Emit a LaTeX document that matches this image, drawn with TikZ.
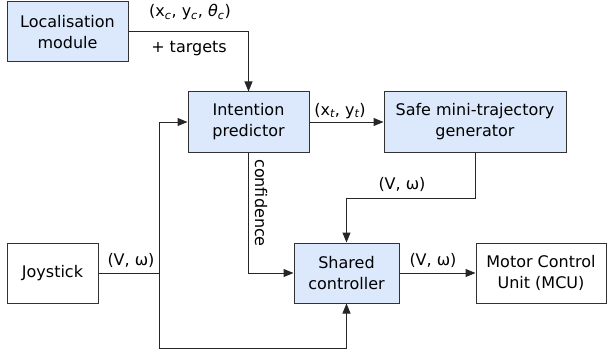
\documentclass[tikz,border=0pt]{standalone}
\usepackage{fontspec}
\setmainfont{DejaVu Sans}
\usetikzlibrary{arrows.meta}
\definecolor{boxblue}{RGB}{220,233,252}
\definecolor{edgegray}{RGB}{50,50,50}
\newcommand{\sub}[1]{\textsubscript{\itshape #1}}
\tikzset{
  block/.style={draw=edgegray, line width=1pt, align=center, inner sep=0pt,
    font=\fontsize{16}{21}\selectfont},
  blueblock/.style={block, fill=boxblue},
  wire/.style={line width=1pt, draw=black!85},
  feed/.style={wire, -{Triangle[length=10pt,width=8pt]}},
  tag/.style={font=\fontsize{16}{19}\selectfont, inner sep=0pt}
}
\begin{document}
\begin{tikzpicture}[x=1pt,y=-1pt]
\useasboundingbox (0,0) rectangle (608,353);

% blocks
\node[blueblock, minimum width=121pt, minimum height=60pt] (loc) at (67.5,32) {Localisation\\module};
\node[blueblock, minimum width=121pt, minimum height=60pt] (intent) at (248.5,122) {Intention\\predictor};
\node[blueblock, minimum width=182pt, minimum height=60pt] (safe) at (475,122) {Safe mini-trajectory\\generator};
\node[block, minimum width=91pt, minimum height=60pt] (joy) at (52.5,273) {Joystick};
\node[blueblock, minimum width=105pt, minimum height=60pt] (shared) at (346.5,273) {Shared\\controller};
\node[block, minimum width=130pt, minimum height=60pt] (mcu) at (541,273) {Motor Control\\Unit (MCU)};

% branching points
\coordinate (split) at (159,273);
\coordinate (low) at (159,348);
\coordinate (turn) at (475,198);

% connectors
\draw[feed] (loc.east) -| (intent.north);
\draw[feed] (intent.east) -- (safe.west);
\draw[feed] (safe.south) -- (turn) -| (shared.north);
\draw[feed] (intent.south) |- (shared.west);
\draw[wire] (joy.east) -- (split);
\draw[feed] (split) |- (intent.west);
\draw[feed] (split) -- (low) -| (shared.south);
\draw[feed] (shared.east) -- (mcu.west);

% signal labels
\node[tag, anchor=base] (lpose) at (190,17) {(x\sub{c}, y\sub{c}, \textit{θ}\sub{c})};
\node[tag, anchor=base] (ltgt) at (189,53) {+ targets};
\node[tag, anchor=base] (lxy) at (340,115) {(x\sub{t}, y\sub{t})};
\node[tag, anchor=base] (lvw1) at (402,189) {(V, ω)};
\node[tag, anchor=base] (lvw2) at (131,265) {(V, ω)};
\node[tag, anchor=base] (lvw3) at (433,265) {(V, ω)};
\node[tag, rotate=-90, anchor=base] (lconf) at (255,203) {confidence};
\end{tikzpicture}
\end{document}
